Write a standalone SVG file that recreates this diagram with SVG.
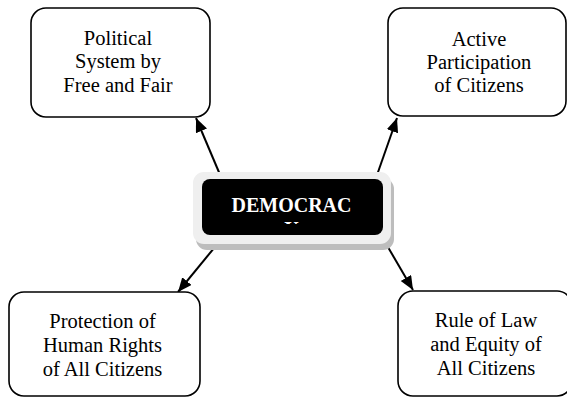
<svg xmlns="http://www.w3.org/2000/svg" width="567" height="397" viewBox="0 0 567 397">
<defs>
<style>
.box{fill:#fff;stroke:#000;stroke-width:1.6}
.t{font-family:"Liberation Serif","Times New Roman",serif;font-size:20.5px;fill:#000;text-anchor:middle}
.ct{font-family:"Liberation Serif","Times New Roman",serif;font-size:20px;font-weight:bold;fill:#fff;text-anchor:middle}
.conn{stroke:#000;stroke-width:2;fill:none;marker-end:url(#ah)}
</style>
<marker id="ah" markerUnits="userSpaceOnUse" markerWidth="16" markerHeight="14" refX="14" refY="6" orient="auto">
<path d="M0,0 L14,6 L0,12 Z" fill="#000"/>
</marker>
<clipPath id="cclip"><rect x="202" y="179" width="181" height="45"/></clipPath>
</defs>
<rect width="567" height="397" fill="#fff"/>
<g id="connectors">
<line class="conn" x1="221" y1="177" x2="196" y2="118"/>
<line class="conn" x1="377" y1="175" x2="397" y2="118"/>
<line class="conn" x1="219" y1="242" x2="178" y2="292"/>
<line class="conn" x1="385" y1="242" x2="413" y2="290"/>
</g>
<g id="center">
<rect x="196" y="178" width="198" height="72" rx="11" fill="#bdbdbd"/>
<rect x="193" y="172" width="198" height="72" rx="11" fill="#efefef"/>
<rect x="202" y="179" width="181" height="56" rx="8" fill="#000"/>
<text class="ct" x="291.5" y="212">DEMOCRAC</text>
<text class="ct" x="291.5" y="236" clip-path="url(#cclip)">Y</text>
</g>
<g id="n-political">
<rect class="box" x="31" y="8" width="179" height="109" rx="15"/>
<text class="t" x="118" y="45">Political</text>
<text class="t" x="118" y="68">System by</text>
<text class="t" x="118" y="92">Free and Fair</text>
</g>
<g id="n-active">
<rect class="box" x="388" y="8" width="178" height="108" rx="15"/>
<text class="t" x="479" y="46">Active</text>
<text class="t" x="479" y="69">Participation</text>
<text class="t" x="479" y="92">of Citizens</text>
</g>
<g id="n-protection">
<rect class="box" x="9" y="292" width="191" height="104" rx="15"/>
<text class="t" x="102.5" y="328">Protection of</text>
<text class="t" x="102.5" y="352">Human Rights</text>
<text class="t" x="102.5" y="376">of All Citizens</text>
</g>
<g id="n-rule">
<rect class="box" x="398" y="291" width="174" height="105" rx="15"/>
<text class="t" x="486" y="327">Rule of Law</text>
<text class="t" x="486" y="351">and Equity of</text>
<text class="t" x="486" y="375">All Citizens</text>
</g>
</svg>
